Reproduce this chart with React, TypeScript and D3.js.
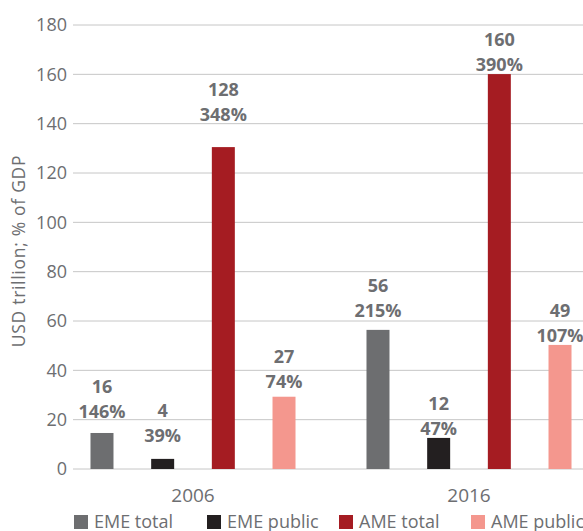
import React from "react";
import * as d3 from "d3";

const years = ["2006", "2016"];
const seriesNames = ["EME total", "EME public", "AME total", "AME public"];
const seriesColors = ["#6d6e70", "#231f20", "#a51c22", "#f4978e"];
// bar heights (USD trillion)
const eme_total = [14.6, 56.4];
const eme_public = [4.1, 12.6];
const ame_total = [130.5, 160.1];
const ame_public = [29.3, 50.3];
// label text
const valueLabels = [["16", "56"], ["4", "12"], ["128", "160"], ["27", "49"]];
const pctLabels = [["146%", "215%"], ["39%", "47%"], ["348%", "390%"], ["74%", "107%"]];
// value (axis units) at which the lower label line sits
const labelAt = [[20.8, 61.7], [11.1, 13.8], [141.1, 161.4], [32.8, 51.6]];
const yTicks = [0, 20, 40, 60, 80, 100, 120, 140, 160, 180];

const W = 583;
const H = 531;
const FONT = "'Open Sans', 'Noto Sans', sans-serif";
const GRAY = "#6d6e71";

export default function App() {
  const series = [eme_total, eme_public, ame_total, ame_public];
  const y = d3.scaleLinear().domain([0, 180]).range([469, 25]);
  const x0 = d3.scaleBand().domain(years).range([55, 607]);
  const x1 = d3
    .scaleBand()
    .domain(seriesNames)
    .range([0, x0.bandwidth()])
    .paddingInner(0.621)
    .paddingOuter(0.585);
  const bw = x1.bandwidth();
  const legendX = [74, 207, 339, 471];

  return (
    <svg width={W} height={H} style={{ position: "absolute", left: 0, top: 0, background: "#fff" }}>
      {yTicks.map((t) => (
        <g key={t}>
          <line x1={73} x2={W} y1={y(t)} y2={y(t)} stroke="#c6c6c6" strokeWidth={1} />
          <text x={67} y={y(t)} dy="0.35em" textAnchor="end" fontFamily={FONT} fontSize={18} fill={GRAY}>
            {t}
          </text>
        </g>
      ))}
      <text
        transform={`translate(25, ${251}) rotate(-90)`}
        textAnchor="middle"
        fontFamily={FONT}
        fontSize={17.5}
        letterSpacing={0.7}
        fill={GRAY}
      >
        USD trillion; % of GDP
      </text>
      {years.map((yr, yi) => (
        <g key={yr}>
          {series.map((s, si) => {
            const cx = (x0(yr) as number) + (x1(seriesNames[si]) as number) + bw / 2;
            return (
              <g key={si}>
                <rect x={cx - bw / 2} y={y(s[yi])} width={bw} height={y(0) - y(s[yi])} fill={seriesColors[si]} />
                <text x={cx} y={y(labelAt[si][yi]) - 25} textAnchor="middle" fontFamily={FONT} fontWeight={700} fontSize={18} fill={GRAY}>
                  {valueLabels[si][yi]}
                </text>
                <text x={cx} y={y(labelAt[si][yi])} textAnchor="middle" fontFamily={FONT} fontWeight={700} fontSize={18} fill={GRAY}>
                  {pctLabels[si][yi]}
                </text>
              </g>
            );
          })}
          <text x={(x0(yr) as number) + x0.bandwidth() / 2} y={502} textAnchor="middle" fontFamily={FONT} fontSize={19} fill={GRAY}>
            {yr}
          </text>
        </g>
      ))}
      {seriesNames.map((n, i) => (
        <g key={n}>
          <rect x={legendX[i]} y={515} width={14} height={14} fill={seriesColors[i]} />
          <text x={legendX[i] + 20} y={528} fontFamily={FONT} fontSize={18} fill={GRAY}>
            {n}
          </text>
        </g>
      ))}
    </svg>
  );
}
